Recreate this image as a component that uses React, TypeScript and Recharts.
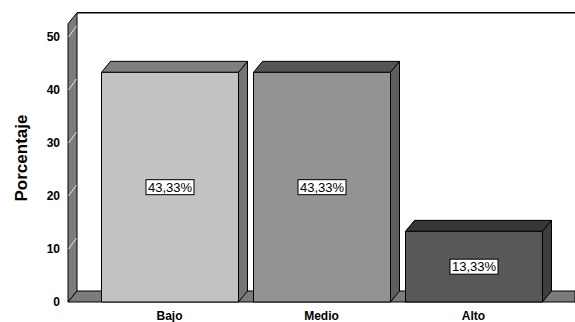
import React from 'react';
import { BarChart, Bar, XAxis, YAxis, ReferenceArea, LabelList } from 'recharts';

const categories = ['Bajo', 'Medio', 'Alto'];
const percentages = [43.33, 43.33, 13.33];
const yTicks = [0, 10, 20, 30, 40, 50];

const data = categories.map((name, i) => ({ name, value: percentages[i] }));

// 3D depth offset of the bars and walls
const DX = 9;
const DY = 11;
const X_PAD = 25.5;
const FONT = "Arial, 'Liberation Sans', sans-serif";

const faceColors: Record<string, { front: string; top: string; side: string }> = {
  Bajo: { front: '#c2c2c2', top: '#7e7e7e', side: '#747474' },
  Medio: { front: '#939393', top: '#555555', side: '#5e5e5e' },
  Alto: { front: '#585858', top: '#363636', side: '#3e3e3e' },
};

const fmt = (v: number) => v.toFixed(2).replace('.', ',') + '%';

function Box3D(props: any) {
  const { x, y, width: w, height: h, payload } = props;
  const c = faceColors[payload.name];
  return (
    <g stroke="#000" strokeWidth={1} strokeLinejoin="round">
      <polygon
        points={`${x},${y} ${x + DX},${y - DY} ${x + w + DX},${y - DY} ${x + w},${y}`}
        fill={c.top}
      />
      <polygon
        points={`${x + w},${y} ${x + w + DX},${y - DY} ${x + w + DX},${y + h - DY} ${x + w},${y + h}`}
        fill={c.side}
      />
      <rect x={x} y={y} width={w} height={h} fill={c.front} />
    </g>
  );
}

// Back wall, left wall and floor; the area spans the padded band range,
// so widen it back out to the full plot width.
function Walls(props: any) {
  const x = props.x - X_PAD;
  const w = props.width + 2 * X_PAD;
  const { y, height: h } = props;
  const b = y + h;
  return (
    <g>
      <rect x={x + DX} y={y - DY} width={w - DX} height={h} fill="#fff" />
      <line x1={x + DX} y1={y - DY} x2={x + w} y2={y - DY} stroke="#000" strokeWidth={1.5} />
      <polygon
        points={`${x},${y} ${x + DX},${y - DY} ${x + DX},${b - DY} ${x},${b}`}
        fill="#7c7c7c"
        stroke="#000"
        strokeWidth={1}
      />
      <polygon
        points={`${x},${b} ${x + DX},${b - DY} ${x + w},${b - DY} ${x + w},${b}`}
        fill="#7c7c7c"
        stroke="#000"
        strokeWidth={1}
      />
    </g>
  );
}

const PLOT_LEFT = 68;

function YTick(props: any) {
  const { y, payload } = props;
  const v = payload.value;
  return (
    <g>
      {v > 0 && (
        <line
          x1={PLOT_LEFT + 0.5}
          y1={y}
          x2={PLOT_LEFT + DX - 0.5}
          y2={y - DY}
          stroke="#e6e6e6"
          strokeWidth={1}
        />
      )}
      <text
        x={60}
        y={y}
        dy={4}
        textAnchor="end"
        fontFamily={FONT}
        fontWeight="bold"
        fontSize={12}
        fill="#000"
      >
        {v}
      </text>
    </g>
  );
}

function XTick(props: any) {
  const { x, payload } = props;
  return (
    <text
      x={x}
      y={320}
      textAnchor="middle"
      fontFamily={FONT}
      fontWeight="bold"
      fontSize={12}
      fill="#000"
    >
      {payload.value}
    </text>
  );
}

function ValueLabel(props: any) {
  const { x, y, width, height, value } = props;
  const cx = x + width / 2;
  const cy = y + height / 2;
  const bw = 48;
  const bh = 15;
  return (
    <g>
      <rect x={cx - bw / 2} y={cy - bh / 2} width={bw} height={bh} fill="#fff" stroke="#000" strokeWidth={1} />
      <text
        x={cx}
        y={cy}
        dy={4.5}
        textAnchor="middle"
        fontFamily={FONT}
        fontSize={13}
        fill="#000"
      >
        {fmt(value)}
      </text>
    </g>
  );
}

export default function App() {
  return (
    <div style={{ position: 'absolute', left: 0, top: 0, width: 575, height: 322, background: '#fff' }}>
      <BarChart
        width={575}
        height={322}
        data={data}
        margin={{ top: 23.75, right: 0, left: 0, bottom: 0 }}
        barSize={137}
      >
        <XAxis
          dataKey="name"
          axisLine={false}
          tickLine={false}
          height={20}
          padding={{ left: X_PAD, right: X_PAD }}
          tick={<XTick />}
          interval={0}
        />
        <YAxis
          type="number"
          domain={[0, 52.5]}
          ticks={yTicks}
          width={PLOT_LEFT}
          axisLine={false}
          tickLine={false}
          tick={<YTick />}
          interval={0}
          label={{
            value: 'Porcentaje',
            content: () => (
              <text
                x={27}
                y={158}
                transform="rotate(-90 27 158)"
                textAnchor="middle"
                fontFamily={FONT}
                fontWeight="bold"
                fontSize={17}
                fill="#000"
              >
                Porcentaje
              </text>
            ),
          }}
        />
        <ReferenceArea y1={0} y2={52.5} ifOverflow="visible" shape={<Walls />} />
        <Bar dataKey="value" shape={<Box3D />} isAnimationActive={false}>
          <LabelList dataKey="value" content={<ValueLabel />} />
        </Bar>
      </BarChart>
    </div>
  );
}
